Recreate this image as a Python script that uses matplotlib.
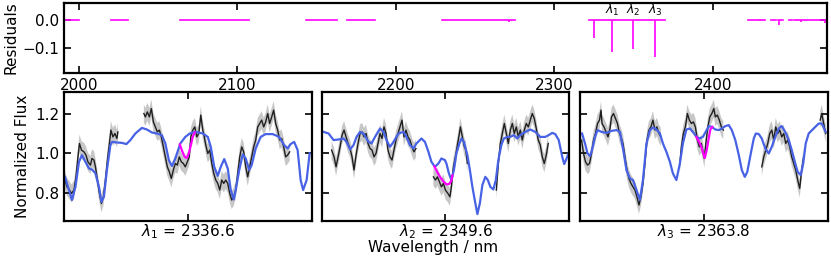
import numpy as np
import matplotlib
matplotlib.use("Agg")
import matplotlib.pyplot as plt

plt.rcParams['font.family'] = ['DejaVu Sans']
plt.rcParams['font.size'] = 11
plt.rcParams['axes.linewidth'] = 1.6

# ---- residual panel data (nm) ----
res_segments = [(1991, 2000), (2020, 2031), (2064, 2107), (2143, 2163), (2169, 2187),
                (2229, 2275), (2322, 2370), (2422.5, 2433), (2437, 2440), (2441, 2444.5),
                (2448, 2450), (2451.5, 2454), (2454.7, 2472)]
spike_wl = [2271.5, 2324.8, 2336.6, 2349.6, 2363.8, 2430, 2442, 2455.5, 2471]
spike_depth = [-0.008, -0.066, -0.114, -0.105, -0.133, -0.005, -0.018, -0.006, -0.012]
line_centers = [2336.6, 2349.6, 2363.8]
line_names = [r'$\lambda_1$', r'$\lambda_2$', r'$\lambda_3$']

# ---- zoom panel data: offsets from line centre (nm) and normalized flux ----
model1_x = [-2.46, -2.38, -2.32, -2.25, -2.18, -2.12, -2.05, -1.98, -1.92, -1.85, -1.78, -1.73,
            -1.68, -1.62, -1.55, -1.52, -1.42, -1.32, -1.23, -1.15, -1.05, -0.92, -0.82, -0.72,
            -0.62, -0.52, -0.45, -0.38, -0.32, -0.25, -0.15, -0.05, 0.04, 0.10, 0.16, 0.30, 0.40,
            0.46, 0.53, 0.60, 0.66, 0.73, 0.80, 0.86, 0.92, 0.96, 1.03, 1.10, 1.16, 1.23, 1.28,
            1.36, 1.46, 1.56, 1.70, 1.83, 1.93, 2.00, 2.06, 2.13, 2.20, 2.26, 2.31, 2.38, 2.44]
model1_y = [0.883, 0.817, 0.767, 0.833, 0.958, 0.992, 0.958, 0.925, 0.920, 0.900, 0.833, 0.758,
            0.783, 0.917, 1.042, 1.058, 1.055, 1.053, 1.047, 1.067, 1.100, 1.128, 1.120, 1.105,
            1.100, 1.092, 1.050, 0.967, 0.937, 0.975, 1.050, 1.083, 1.100, 1.105, 1.108, 1.100,
            1.083, 1.033, 0.933, 0.888, 0.933, 0.972, 0.925, 0.817, 0.770, 0.817, 0.917, 0.995,
            0.975, 0.917, 0.942, 1.025, 1.083, 1.097, 1.097, 1.083, 1.042, 1.025, 1.047, 1.058,
            1.017, 0.867, 0.817, 0.867, 1.000]
data1_x = [-2.46, -2.42, -2.37, -2.33, -2.28, -2.24, -2.20, -2.17, -2.13, -2.08, -2.04, -2.00,
           -1.95, -1.92, -1.88, -1.85, -1.81, -1.77, -1.73, -1.69, -1.65, -1.61, -1.57, -1.54,
           -1.50, -1.46, -1.42, -1.40, np.nan,
           -0.88, -0.85, -0.81, -0.77, -0.73, -0.69, -0.65, -0.61, -0.57, -0.53, -0.49, -0.45,
           -0.41, -0.37, -0.33, -0.29, -0.25, -0.21, -0.17, -0.13, -0.09, -0.05, -0.01, 0.03,
           0.06, 0.10, 0.14, 0.18, 0.22, 0.26, 0.30, 0.33, 0.36, 0.40, 0.44, 0.48, 0.52, 0.56,
           0.60, 0.64, 0.68, 0.72, 0.76, 0.80, 0.84, 0.88, 0.92, 0.96, 1.00, 1.04, 1.08, 1.12,
           1.16, 1.20, 1.24, 1.28, 1.32, 1.36, 1.40, 1.44, 1.48, 1.52, 1.56, 1.60, 1.64, 1.68,
           1.72, 1.76, 1.80, 1.84, 1.88, 1.92, 1.96, 2.00, 2.04]
data1_y = [0.867, 0.833, 0.817, 0.800, 0.817, 0.883, 0.983, 1.050, 1.017, 1.008, 0.992, 0.958,
           0.942, 0.975, 0.967, 0.933, 0.867, 0.800, 0.750, 0.783, 0.867, 0.967, 1.050, 1.117,
           1.083, 1.100, 1.075, 1.108, np.nan,
           1.200, 1.183, 1.208, 1.183, 1.225, 1.158, 1.133, 1.108, 1.117, 1.083, 1.033, 0.983,
           0.933, 0.908, 0.875, 0.917, 0.950, 0.942, 0.983, 0.958, 0.950, 0.933, 0.958, 0.983,
           1.083, 1.117, 1.133, 1.083, 1.100, 1.192, 1.117, 1.083, 1.042, 1.000, 1.017, 0.950,
           0.900, 0.867, 0.850, 0.817, 0.867, 0.850, 0.867, 0.850, 0.800, 0.767, 0.783, 0.817,
           0.900, 0.983, 1.033, 1.008, 0.933, 0.883, 0.933, 0.983, 1.033, 1.067, 1.133, 1.150,
           1.167, 1.133, 1.158, 1.200, 1.150, 1.183, 1.217, 1.150, 1.117, 1.067, 1.075, 1.033,
           0.983, 0.992, 1.008]
line1_x = [-0.16, -0.11, -0.06, -0.02, 0.02, 0.06, 0.10, 0.14]
line1_y = [1.045, 1.010, 0.983, 0.977, 1.000, 1.040, 1.085, 1.105]

model2_x = [-2.44, -2.34, -2.24, -2.14, -2.04, -1.98, -1.91, -1.84, -1.78, -1.71, -1.64, -1.54,
            -1.48, -1.41, -1.31, -1.24, -1.18, -1.11, -1.04, -0.94, -0.84, -0.78, -0.71, -0.64,
            -0.58, -0.48, -0.41, -0.34, -0.28, -0.21, -0.14, -0.08, -0.01, 0.02, 0.07, 0.12,
            0.17, 0.22, 0.28, 0.32, 0.37, 0.44, 0.49, 0.54, 0.60, 0.64, 0.69, 0.74, 0.80, 0.85,
            0.90, 0.96, 1.01, 1.06, 1.12, 1.17, 1.24, 1.30, 1.37, 1.44, 1.50, 1.60, 1.70, 1.80,
            1.90, 2.00, 2.07, 2.14, 2.20, 2.27, 2.34, 2.38, 2.44, 2.49]
model2_y = [1.108, 1.100, 1.067, 1.070, 1.075, 1.058, 1.020, 1.042, 1.083, 1.108, 1.100, 1.058,
            1.050, 1.083, 1.125, 1.108, 1.067, 1.033, 1.058, 1.100, 1.108, 1.083, 1.042, 1.025,
            1.050, 1.075, 1.058, 1.008, 0.958, 0.933, 0.950, 0.975, 0.967, 0.950, 0.900, 0.867,
            0.917, 1.000, 1.050, 1.075, 1.058, 0.992, 0.917, 0.833, 0.750, 0.697, 0.750, 0.842,
            0.883, 0.867, 0.833, 0.820, 0.867, 0.967, 1.042, 1.075, 1.083, 1.083, 1.092, 1.075,
            1.092, 1.108, 1.120, 1.108, 1.083, 1.083, 1.092, 1.103, 1.097, 1.067, 0.983, 0.947,
            0.983, 1.017]
data2_x = [-2.28, -2.23, -2.19, -2.15, -2.11, -2.07, -2.03, -1.99, -1.95, -1.91, -1.87, -1.83,
           -1.79, -1.75, -1.71, -1.67, -1.63, -1.59, -1.55, -1.51, -1.47, -1.43, -1.39, -1.35,
           -1.31, -1.27, -1.23, -1.19, -1.15, -1.11, -1.07, -1.03, -0.99, -0.95, -0.91, -0.87,
           -0.83, -0.79, -0.75, -0.71, -0.67, -0.63, -0.59, np.nan,
           -0.24, -0.20, -0.16, -0.12, -0.08, -0.04, 0.00, 0.05, 0.09, 0.12, 0.16, 0.20, 0.24,
           0.28, 0.30, 0.34, 0.38, 0.41, 0.44, np.nan,
           1.02, 1.06, 1.10, 1.14, 1.18, 1.22, 1.26, 1.30, 1.34, 1.38, 1.42, 1.46, 1.50, 1.54,
           1.58, 1.62, 1.66, 1.70, 1.74, 1.78, 1.82, 1.86, 1.90, 1.94, 1.98, 2.02, 2.06]
data2_y = [1.017, 0.983, 0.933, 0.983, 1.033, 1.092, 1.117, 1.083, 1.050, 1.025, 0.983, 0.917,
           0.992, 1.050, 1.100, 1.108, 1.083, 1.100, 1.050, 1.025, 1.017, 0.983, 1.000, 1.050,
           1.100, 1.075, 1.133, 1.100, 1.017, 0.983, 0.967, 1.017, 1.067, 1.100, 1.133, 1.167,
           1.083, 1.117, 1.083, 1.067, 1.033, 1.008, 1.025, np.nan,
           0.883, 0.867, 0.883, 0.858, 0.833, 0.850, 0.817, 0.800, 0.783, 0.833, 0.933, 0.983,
           1.042, 1.100, 1.133, 1.083, 1.033, 1.017, 0.950, np.nan,
           0.817, 0.950, 1.050, 1.100, 1.150, 1.100, 1.050, 1.117, 1.150, 1.100, 1.133, 1.083,
           1.117, 1.067, 1.117, 1.150, 1.133, 1.167, 1.200, 1.175, 1.125, 1.067, 1.042, 0.983,
           0.950, 0.992, 1.050]
line2_x = [-0.22, -0.16, -0.10, -0.04, 0.02, 0.08, 0.12, 0.14]
line2_y = [0.935, 0.905, 0.880, 0.860, 0.845, 0.848, 0.865, 0.890]

model3_x = [-2.44, -2.38, -2.33, -2.28, -2.24, -2.18, -2.13, -2.05, -1.95, -1.85, -1.75, -1.68,
            -1.62, -1.55, -1.48, -1.42, -1.35, -1.28, -1.22, -1.15, -1.08, -1.02, -0.95, -0.88,
            -0.82, -0.75, -0.68, -0.62, -0.55, -0.48, -0.42, -0.35, -0.28, -0.22, -0.15, -0.08,
            -0.02, 0.04, 0.10, 0.16, 0.23, 0.30, 0.36, 0.43, 0.50, 0.56, 0.63, 0.70, 0.76, 0.82,
            0.87, 0.94, 1.00, 1.04, 1.10, 1.16, 1.23, 1.30, 1.36, 1.43, 1.50, 1.56, 1.63, 1.70,
            1.76, 1.83, 1.88, 1.94, 1.99, 2.04, 2.10, 2.20, 2.30, 2.36, 2.44]
model3_y = [1.100, 1.050, 1.000, 0.987, 1.017, 1.083, 1.117, 1.108, 1.103, 1.113, 1.117, 1.108,
            1.025, 0.917, 0.875, 0.867, 0.817, 0.767, 0.867, 1.050, 1.117, 1.130, 1.120, 1.100,
            1.050, 1.008, 0.958, 0.900, 0.867, 0.950, 1.050, 1.120, 1.125, 1.108, 1.083, 1.075,
            1.083, 1.110, 1.137, 1.133, 1.120, 1.117, 1.125, 1.137, 1.142, 1.117, 1.067, 0.992,
            0.917, 0.883, 0.908, 1.000, 1.075, 1.100, 1.097, 1.075, 1.025, 1.000, 1.033, 1.083,
            1.125, 1.137, 1.108, 1.067, 1.017, 0.950, 0.908, 0.892, 0.950, 1.050, 1.100, 1.125,
            1.150, 1.150, 1.108]
data3_x = [-2.45, -2.41, -2.37, -2.33, -2.29, -2.25, -2.21, -2.17, -2.13, -2.09, -2.06, -2.04,
           -2.00, -1.96, -1.92, -1.88, -1.85, -1.81, -1.77, -1.73, -1.69, -1.66, -1.62, -1.58,
           -1.54, -1.50, -1.46, -1.42, -1.38, -1.34, -1.30, -1.26, -1.22, -1.18, -1.14, -1.10,
           -1.06, -1.02, -0.98, -0.94, -0.90, -0.86, np.nan,
           -0.48, -0.45, -0.41, -0.37, -0.33, -0.29, -0.25, -0.21, -0.17, -0.13, -0.09, -0.05,
           -0.01, 0.01, 0.04, 0.08, 0.12, 0.16, 0.20, 0.23, 0.27, 0.31, 0.35, 0.39, np.nan,
           1.16, 1.20, 1.24, 1.28, 1.32, 1.36, 1.40, 1.44, 1.48, 1.52, 1.56, 1.60, 1.64, 1.68,
           1.72, 1.76, 1.80, 1.84, 1.88, 1.92, 1.96, 2.00, np.nan,
           2.33, 2.36, 2.40, 2.44]
data3_y = [1.067, 1.000, 0.958, 0.942, 0.950, 1.000, 1.067, 1.100, 1.150, 1.167, 1.217, 1.150,
           1.133, 1.108, 1.083, 1.125, 1.183, 1.200, 1.175, 1.150, 1.100, 1.083, 1.050, 0.983,
           0.917, 0.875, 0.850, 0.833, 0.817, 0.783, 0.742, 0.783, 0.850, 0.950, 1.067, 1.117,
           1.133, 1.167, 1.117, 1.133, 1.100, 1.083, np.nan,
           0.950, 1.033, 1.100, 1.133, 1.200, 1.167, 1.150, 1.158, 1.133, 1.067, 1.033, 1.050,
           1.000, 0.975, 1.050, 1.133, 1.183, 1.200, 1.225, 1.183, 1.192, 1.167, 1.133, 1.117, np.nan,
           0.933, 0.983, 1.017, 1.050, 1.100, 1.117, 1.067, 1.133, 1.100, 1.117, 1.083, 1.100,
           1.050, 1.067, 1.033, 0.983, 0.950, 0.917, 0.867, 0.825, 0.917, 0.983, np.nan,
           1.167, 1.200, 1.150, 1.100]
line3_x = [-0.15, -0.10, -0.05, 0.00, 0.02, 0.06, 0.10, 0.13, 0.17]
line3_y = [1.083, 1.060, 1.033, 0.990, 0.978, 1.020, 1.080, 1.120, 1.133]

flux_err = 0.045
half_width = 2.48

panels = [
    (model1_x, model1_y, data1_x, data1_y, line1_x, line1_y),
    (model2_x, model2_y, data2_x, data2_y, line2_x, line2_y),
    (model3_x, model3_y, data3_x, data3_y, line3_x, line3_y),
]

BLUE = '#4862e6'
MAG = '#ff00ff'

fig = plt.figure(figsize=(8.31, 2.61), dpi=100)

# top: residuals over the whole range
ax = fig.add_axes([0.077, 0.721, 0.918, 0.267])
for a, b in res_segments:
    ax.plot([a, b], [0, 0], color=MAG, lw=1.2)
ax.vlines(spike_wl, spike_depth, 0, color=MAG, lw=1.2)
for wl, name in zip(line_centers, line_names):
    ax.text(wl, 0.006, name, ha='center', va='bottom', fontsize=9)
ax.set_xlim(1990.5, 2472)
ax.set_ylim(-0.19, 0.06)
ax.set_yticks([0.0, -0.1])
ax.set_xticks([2000, 2100, 2200, 2300, 2400])
ax.tick_params(direction='in', top=True, right=True, length=5, width=1.2, labelsize=11)
ax.set_ylabel('Residuals')
ax.yaxis.set_label_coords(-0.06, 0.5)

# bottom: zooms around each line
lefts = [0.077, 0.387, 0.698]
for i, (mx, my, dx, dy, lx, ly) in enumerate(panels):
    axp = fig.add_axes([lefts[i], 0.154, 0.298, 0.493])
    dx = np.array(dx)
    dy = np.array(dy)
    axp.fill_between(dx, dy - flux_err, dy + flux_err, color='0.6', alpha=0.55, lw=0)
    axp.plot(dx, dy, color='0.12', lw=1.0)
    axp.plot(mx, my, color=BLUE, lw=1.6)
    axp.plot(lx, ly, color=MAG, lw=1.6)
    axp.set_xlim(-half_width, half_width)
    axp.set_ylim(0.663, 1.307)
    axp.set_xticks([0])
    axp.set_xticklabels([])
    axp.set_yticks([0.8, 1.0, 1.2])
    axp.tick_params(direction='in', top=True, right=True, length=5, width=1.2, labelsize=11)
    if i > 0:
        axp.set_yticklabels([])
    else:
        axp.set_ylabel('Normalized Flux')
        axp.yaxis.set_label_coords(-0.137, 0.5)
    axp.set_xlabel('%s = %.1f' % (line_names[i], line_centers[i]))
    axp.xaxis.set_label_coords(0.5, -0.012)

fig.text(0.521, 0.05, 'Wavelength / nm', ha='center', va='center', fontsize=11)

fig.savefig('out.png', dpi=100)
